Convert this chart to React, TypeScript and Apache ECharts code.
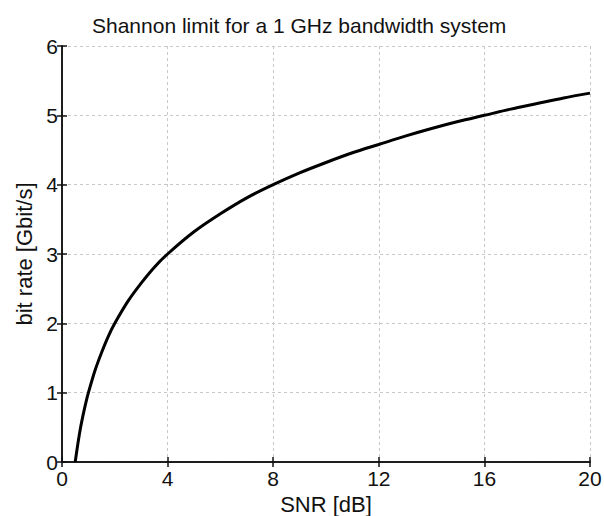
import React, { useEffect, useRef } from "react";
import * as echarts from "echarts";

// SNR [dB] sample points along the curve
const snr = [0.5, 0.6, 0.7, 0.8, 0.9, 1, 1.25, 1.5, 1.75, 2, 2.5, 3, 3.5, 4, 5, 6, 7, 8, 9, 10, 11, 12, 13, 14, 15, 16, 17, 18, 19, 20];
// bit rate [Gbit/s] at each sample
const bitRate = [0, 0.26, 0.49, 0.68, 0.85, 1, 1.32, 1.58, 1.81, 2, 2.32, 2.58, 2.81, 3, 3.32, 3.58, 3.81, 4, 4.17, 4.32, 4.46, 4.58, 4.7, 4.81, 4.91, 5, 5.09, 5.17, 5.25, 5.32];

const xTicks = [0, 4, 8, 12, 16, 20];
const yTicks = [0, 1, 2, 3, 4, 5, 6];

const FONT = "Liberation Sans, Arial, sans-serif";

export default function App() {
  const ref = useRef<HTMLDivElement>(null);

  useEffect(() => {
    if (!ref.current) return;
    const chart = echarts.init(ref.current, null, { renderer: "svg" });
    const gridLine = { show: true, lineStyle: { color: "#c8c8c8", type: [3, 3] as any, width: 1 } };
    const axisLine = { show: true, lineStyle: { color: "#111", width: 1.5 } };
    const tick = { show: true, inside: true, length: 5, lineStyle: { color: "#111", width: 1.5 } };
    chart.setOption({
      animation: false,
      backgroundColor: "#fff",
      title: {
        text: "Shannon limit for a 1 GHz bandwidth system",
        left: 87,
        top: 10,
        textStyle: { fontFamily: FONT, fontSize: 21, fontWeight: "normal", color: "#111" },
      },
      grid: { left: 62, right: 14, top: 46, bottom: 54, outerBoundsMode: "none" },
      xAxis: [
        {
          type: "value",
          min: 0,
          max: 20,
          interval: 4,
          position: "bottom",
          name: "SNR [dB]",
          nameLocation: "middle",
          nameGap: 19,
          nameTextStyle: { fontFamily: FONT, fontSize: 22, color: "#111" },
          axisLine,
          axisTick: tick,
          axisLabel: {
            fontFamily: FONT,
            fontSize: 21,
            color: "#111",
            margin: 6,
            formatter: (v: number) => (xTicks.includes(v) ? String(v) : ""),
          },
          splitLine: gridLine,
        },
        {
          type: "value",
          min: 0,
          max: 20,
          interval: 4,
          position: "top",
          axisLine,
          axisTick: tick,
          axisLabel: { show: false },
          splitLine: { show: false },
        },
      ],
      yAxis: [
        {
          type: "value",
          min: 0,
          max: 6,
          interval: 1,
          position: "left",
          name: "bit rate [Gbit/s]",
          nameLocation: "middle",
          nameGap: 24,
          nameTextStyle: { fontFamily: FONT, fontSize: 22, color: "#111" },
          axisLine,
          axisTick: tick,
          axisLabel: {
            fontFamily: FONT,
            fontSize: 21,
            color: "#111",
            margin: 4,
            formatter: (v: number) => (yTicks.includes(v) ? String(v) : ""),
          },
          splitLine: gridLine,
        },
        {
          type: "value",
          min: 0,
          max: 6,
          interval: 1,
          position: "right",
          axisLine,
          axisTick: tick,
          axisLabel: { show: false },
          splitLine: { show: false },
        },
      ],
      series: [
        {
          type: "line",
          data: snr.map((x, i) => [x, bitRate[i]]),
          smooth: 0.3,
          showSymbol: false,
          lineStyle: { color: "#000", width: 3 },
          clip: true,
        },
      ],
    });
    return () => chart.dispose();
  }, []);

  return (
    <div
      ref={ref}
      style={{ position: "fixed", left: 0, top: 0, width: 604, height: 516, overflow: "hidden" }}
    />
  );
}
